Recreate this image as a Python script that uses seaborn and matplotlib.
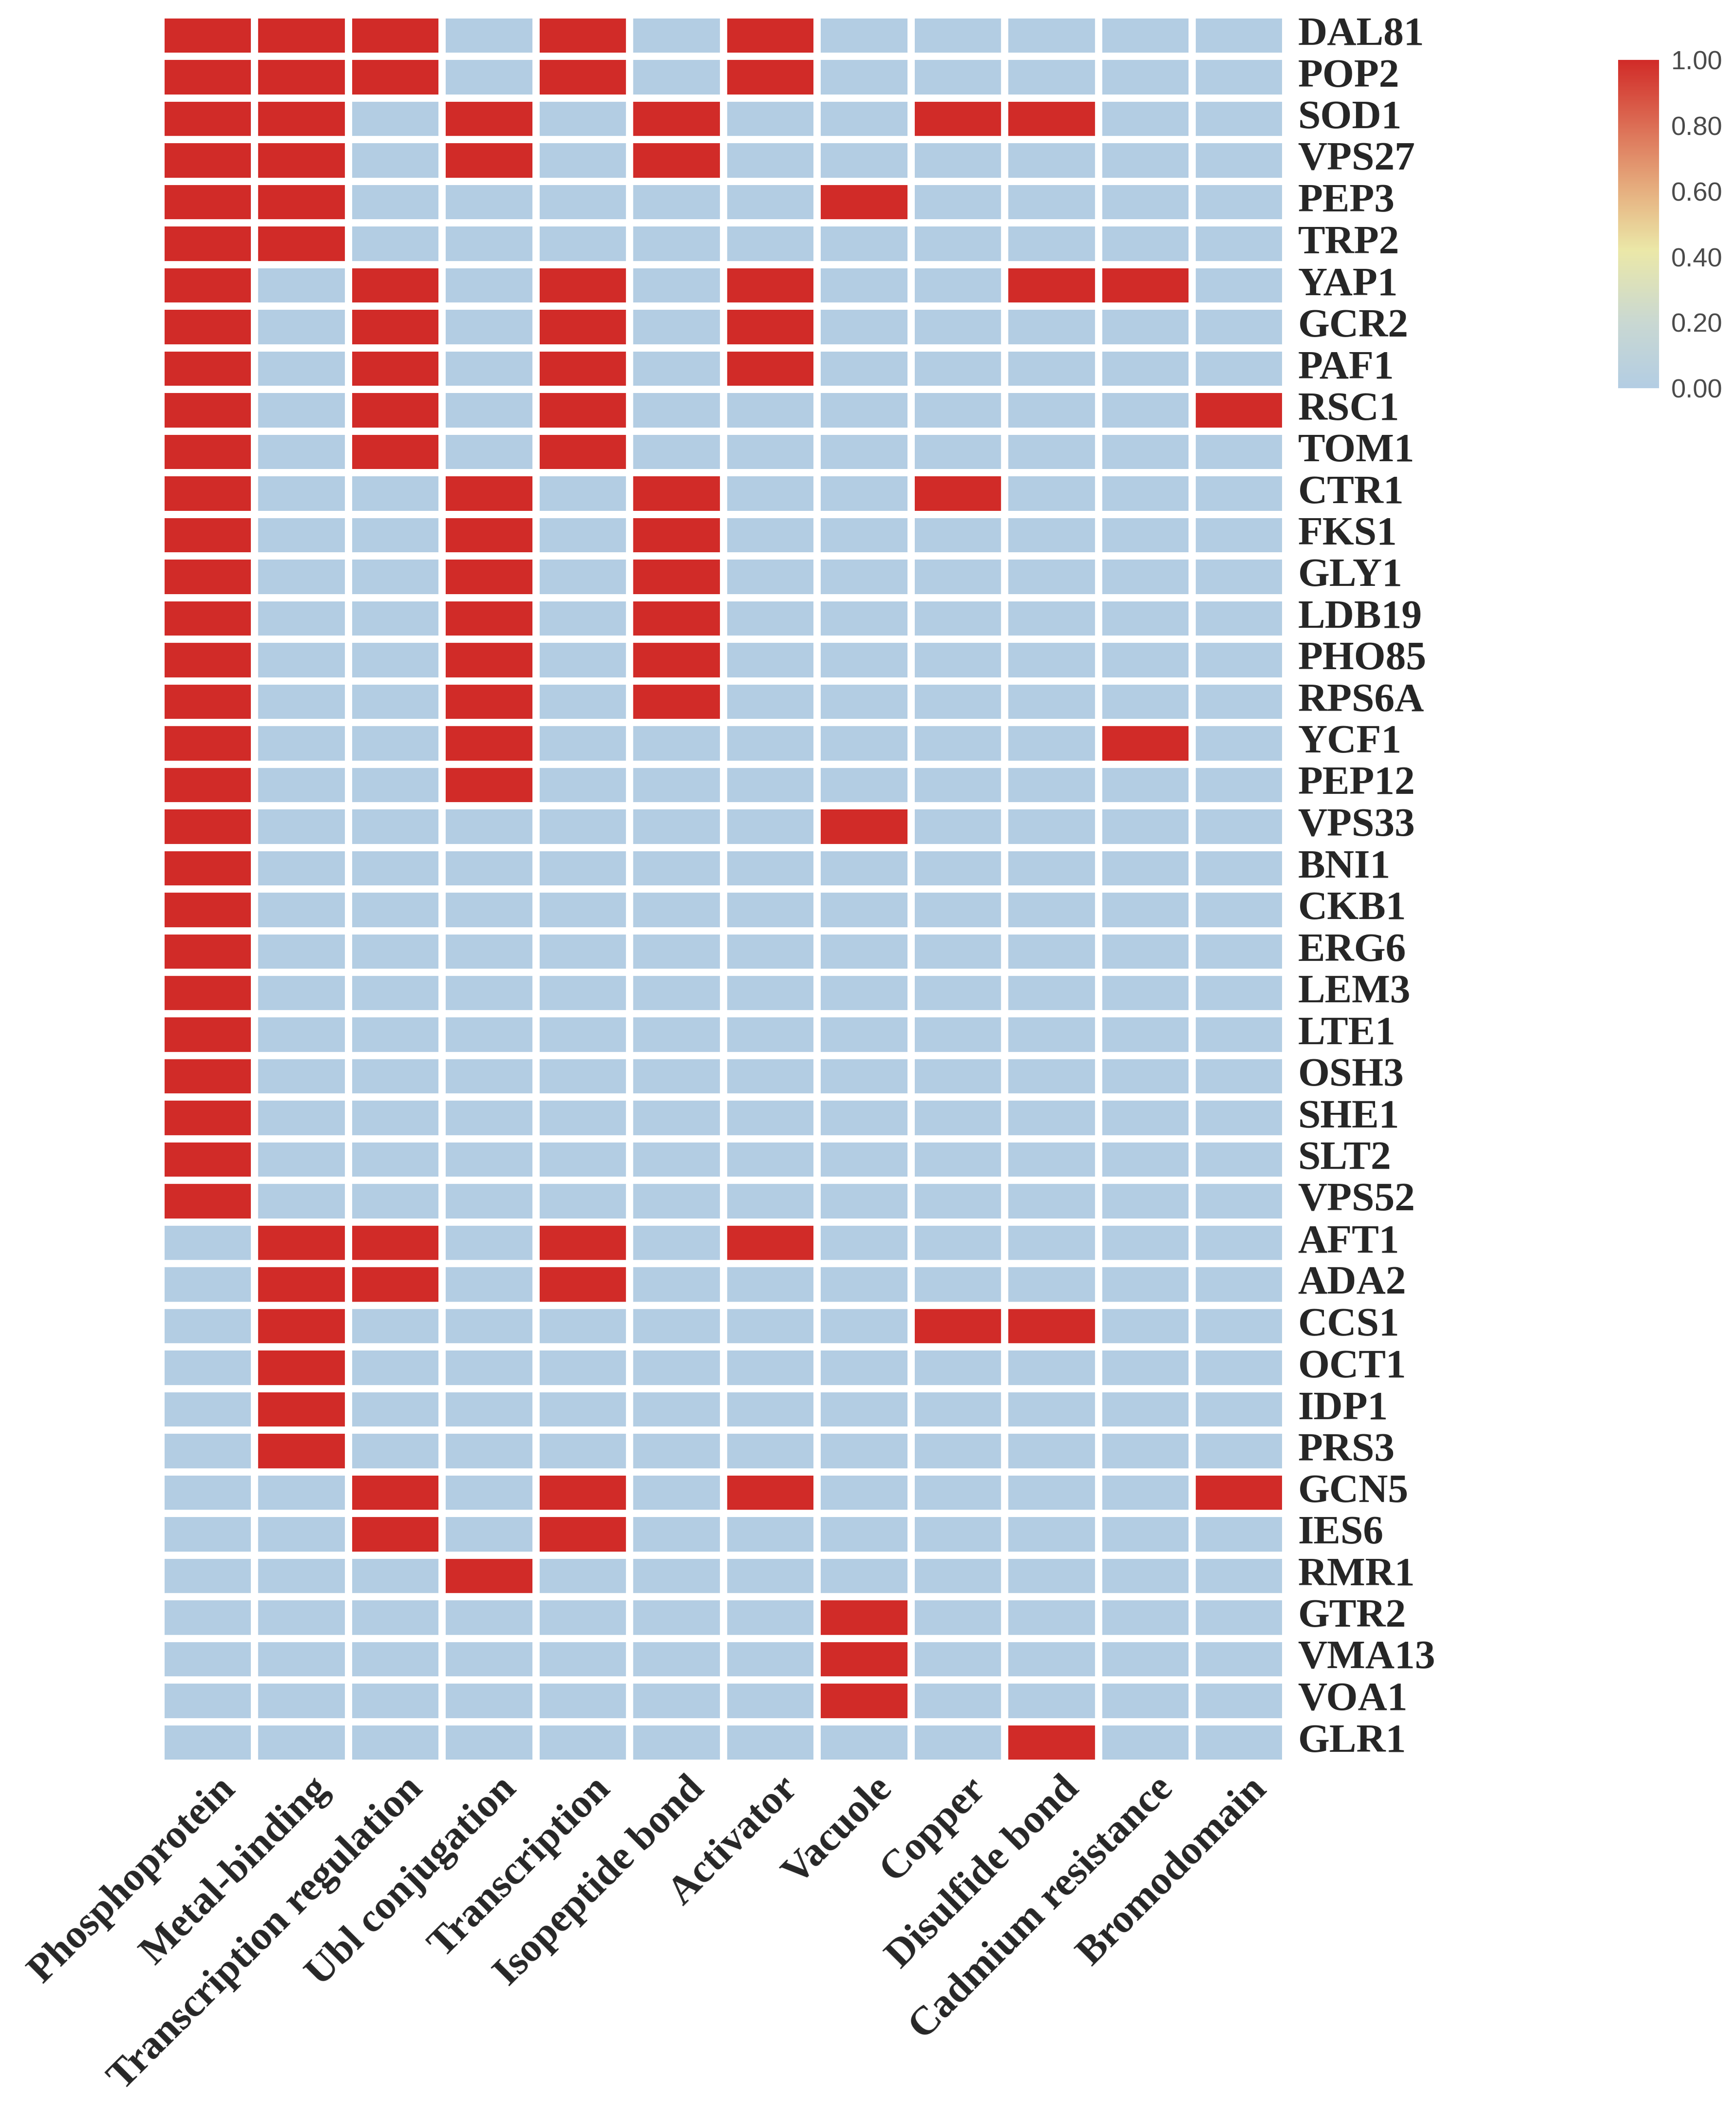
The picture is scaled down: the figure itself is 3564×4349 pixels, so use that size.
import numpy as np
import pandas as pd
import seaborn as sns
import matplotlib
matplotlib.use("Agg")
import matplotlib.pyplot as plt
import matplotlib.transforms as mtransforms
from matplotlib.colors import LinearSegmentedColormap

genes = ["DAL81", "POP2", "SOD1", "VPS27", "PEP3", "TRP2", "YAP1", "GCR2", "PAF1",
         "RSC1", "TOM1", "CTR1", "FKS1", "GLY1", "LDB19", "PHO85", "RPS6A", "YCF1",
         "PEP12", "VPS33", "BNI1", "CKB1", "ERG6", "LEM3", "LTE1", "OSH3", "SHE1",
         "SLT2", "VPS52", "AFT1", "ADA2", "CCS1", "OCT1", "IDP1", "PRS3", "GCN5",
         "IES6", "RMR1", "GTR2", "VMA13", "VOA1", "GLR1"]

terms = ["Phosphoprotein", "Metal-binding", "Transcription regulation", "Ubl conjugation",
         "Transcription", "Isopeptide bond", "Activator", "Vacuole", "Copper",
         "Disulfide bond", "Cadmium resistance", "Bromodomain"]

values = [
    [1, 1, 1, 0, 1, 0, 1, 0, 0, 0, 0, 0],  # DAL81
    [1, 1, 1, 0, 1, 0, 1, 0, 0, 0, 0, 0],  # POP2
    [1, 1, 0, 1, 0, 1, 0, 0, 1, 1, 0, 0],  # SOD1
    [1, 1, 0, 1, 0, 1, 0, 0, 0, 0, 0, 0],  # VPS27
    [1, 1, 0, 0, 0, 0, 0, 1, 0, 0, 0, 0],  # PEP3
    [1, 1, 0, 0, 0, 0, 0, 0, 0, 0, 0, 0],  # TRP2
    [1, 0, 1, 0, 1, 0, 1, 0, 0, 1, 1, 0],  # YAP1
    [1, 0, 1, 0, 1, 0, 1, 0, 0, 0, 0, 0],  # GCR2
    [1, 0, 1, 0, 1, 0, 1, 0, 0, 0, 0, 0],  # PAF1
    [1, 0, 1, 0, 1, 0, 0, 0, 0, 0, 0, 1],  # RSC1
    [1, 0, 1, 0, 1, 0, 0, 0, 0, 0, 0, 0],  # TOM1
    [1, 0, 0, 1, 0, 1, 0, 0, 1, 0, 0, 0],  # CTR1
    [1, 0, 0, 1, 0, 1, 0, 0, 0, 0, 0, 0],  # FKS1
    [1, 0, 0, 1, 0, 1, 0, 0, 0, 0, 0, 0],  # GLY1
    [1, 0, 0, 1, 0, 1, 0, 0, 0, 0, 0, 0],  # LDB19
    [1, 0, 0, 1, 0, 1, 0, 0, 0, 0, 0, 0],  # PHO85
    [1, 0, 0, 1, 0, 1, 0, 0, 0, 0, 0, 0],  # RPS6A
    [1, 0, 0, 1, 0, 0, 0, 0, 0, 0, 1, 0],  # YCF1
    [1, 0, 0, 1, 0, 0, 0, 0, 0, 0, 0, 0],  # PEP12
    [1, 0, 0, 0, 0, 0, 0, 1, 0, 0, 0, 0],  # VPS33
    [1, 0, 0, 0, 0, 0, 0, 0, 0, 0, 0, 0],  # BNI1
    [1, 0, 0, 0, 0, 0, 0, 0, 0, 0, 0, 0],  # CKB1
    [1, 0, 0, 0, 0, 0, 0, 0, 0, 0, 0, 0],  # ERG6
    [1, 0, 0, 0, 0, 0, 0, 0, 0, 0, 0, 0],  # LEM3
    [1, 0, 0, 0, 0, 0, 0, 0, 0, 0, 0, 0],  # LTE1
    [1, 0, 0, 0, 0, 0, 0, 0, 0, 0, 0, 0],  # OSH3
    [1, 0, 0, 0, 0, 0, 0, 0, 0, 0, 0, 0],  # SHE1
    [1, 0, 0, 0, 0, 0, 0, 0, 0, 0, 0, 0],  # SLT2
    [1, 0, 0, 0, 0, 0, 0, 0, 0, 0, 0, 0],  # VPS52
    [0, 1, 1, 0, 1, 0, 1, 0, 0, 0, 0, 0],  # AFT1
    [0, 1, 1, 0, 1, 0, 0, 0, 0, 0, 0, 0],  # ADA2
    [0, 1, 0, 0, 0, 0, 0, 0, 1, 1, 0, 0],  # CCS1
    [0, 1, 0, 0, 0, 0, 0, 0, 0, 0, 0, 0],  # OCT1
    [0, 1, 0, 0, 0, 0, 0, 0, 0, 0, 0, 0],  # IDP1
    [0, 1, 0, 0, 0, 0, 0, 0, 0, 0, 0, 0],  # PRS3
    [0, 0, 1, 0, 1, 0, 1, 0, 0, 0, 0, 1],  # GCN5
    [0, 0, 1, 0, 1, 0, 0, 0, 0, 0, 0, 0],  # IES6
    [0, 0, 0, 1, 0, 0, 0, 0, 0, 0, 0, 0],  # RMR1
    [0, 0, 0, 0, 0, 0, 0, 1, 0, 0, 0, 0],  # GTR2
    [0, 0, 0, 0, 0, 0, 0, 1, 0, 0, 0, 0],  # VMA13
    [0, 0, 0, 0, 0, 0, 0, 1, 0, 0, 0, 0],  # VOA1
    [0, 0, 0, 0, 0, 0, 0, 0, 0, 1, 0, 0],  # GLR1
]

cbar_ticks = [0.0, 0.2, 0.4, 0.6, 0.8, 1.0]

df = pd.DataFrame(np.array(values, dtype=float), index=genes, columns=terms)

cmap = LinearSegmentedColormap.from_list(
    "bluered",
    [(0.0, "#b3cde3"), (0.2, "#c9d8d2"), (0.42, "#ebe8a8"),
     (0.6, "#e6b080"), (0.8, "#dc6e55"), (1.0, "#d12b28")])

sns.set_style("white")
plt.rcParams["font.family"] = ["Liberation Serif", "DejaVu Serif"]

W, H, DPI = 3564, 4349, 300
fig = plt.figure(figsize=(W / DPI, H / DPI), dpi=DPI)
ax = fig.add_axes([0.0926, 0.1676, 0.648, 0.8255])
cax = fig.add_axes([0.932, 0.8167, 0.0236, 0.155])

sns.heatmap(df, ax=ax, cbar_ax=cax, cmap=cmap, vmin=0, vmax=1,
            linewidths=3.6, linecolor="white",
            cbar_kws={"ticks": cbar_ticks, "format": "%.2f"})

ax.yaxis.tick_right()
ax.tick_params(axis="both", length=0)
ax.tick_params(axis="y", pad=6)
ax.tick_params(axis="x", pad=10)
ax.set_yticks(np.arange(len(genes)) + 0.5)
ax.set_yticklabels(genes, rotation=0, fontsize=20, fontweight="bold",
                   ha="left", va="center")
ax.set_xticks(np.arange(len(terms)) + 0.5)
ax.set_xticklabels(terms, rotation=45, fontsize=20, fontweight="bold",
                   ha="right", va="center", rotation_mode="anchor")
shift = mtransforms.ScaledTranslation(11 / 72, 0, fig.dpi_scale_trans)
for lab in ax.get_xticklabels():
    lab.set_transform(lab.get_transform() + shift)
ax.set_xlabel("")
ax.set_ylabel("")

cbar = ax.collections[0].colorbar
cbar.outline.set_visible(False)
cax.tick_params(length=0, pad=6, labelsize=13, labelcolor="#4a4a4a")
for t in cax.get_yticklabels():
    t.set_family(["Liberation Sans", "DejaVu Sans"])

fig.savefig("out.png", dpi=DPI)
